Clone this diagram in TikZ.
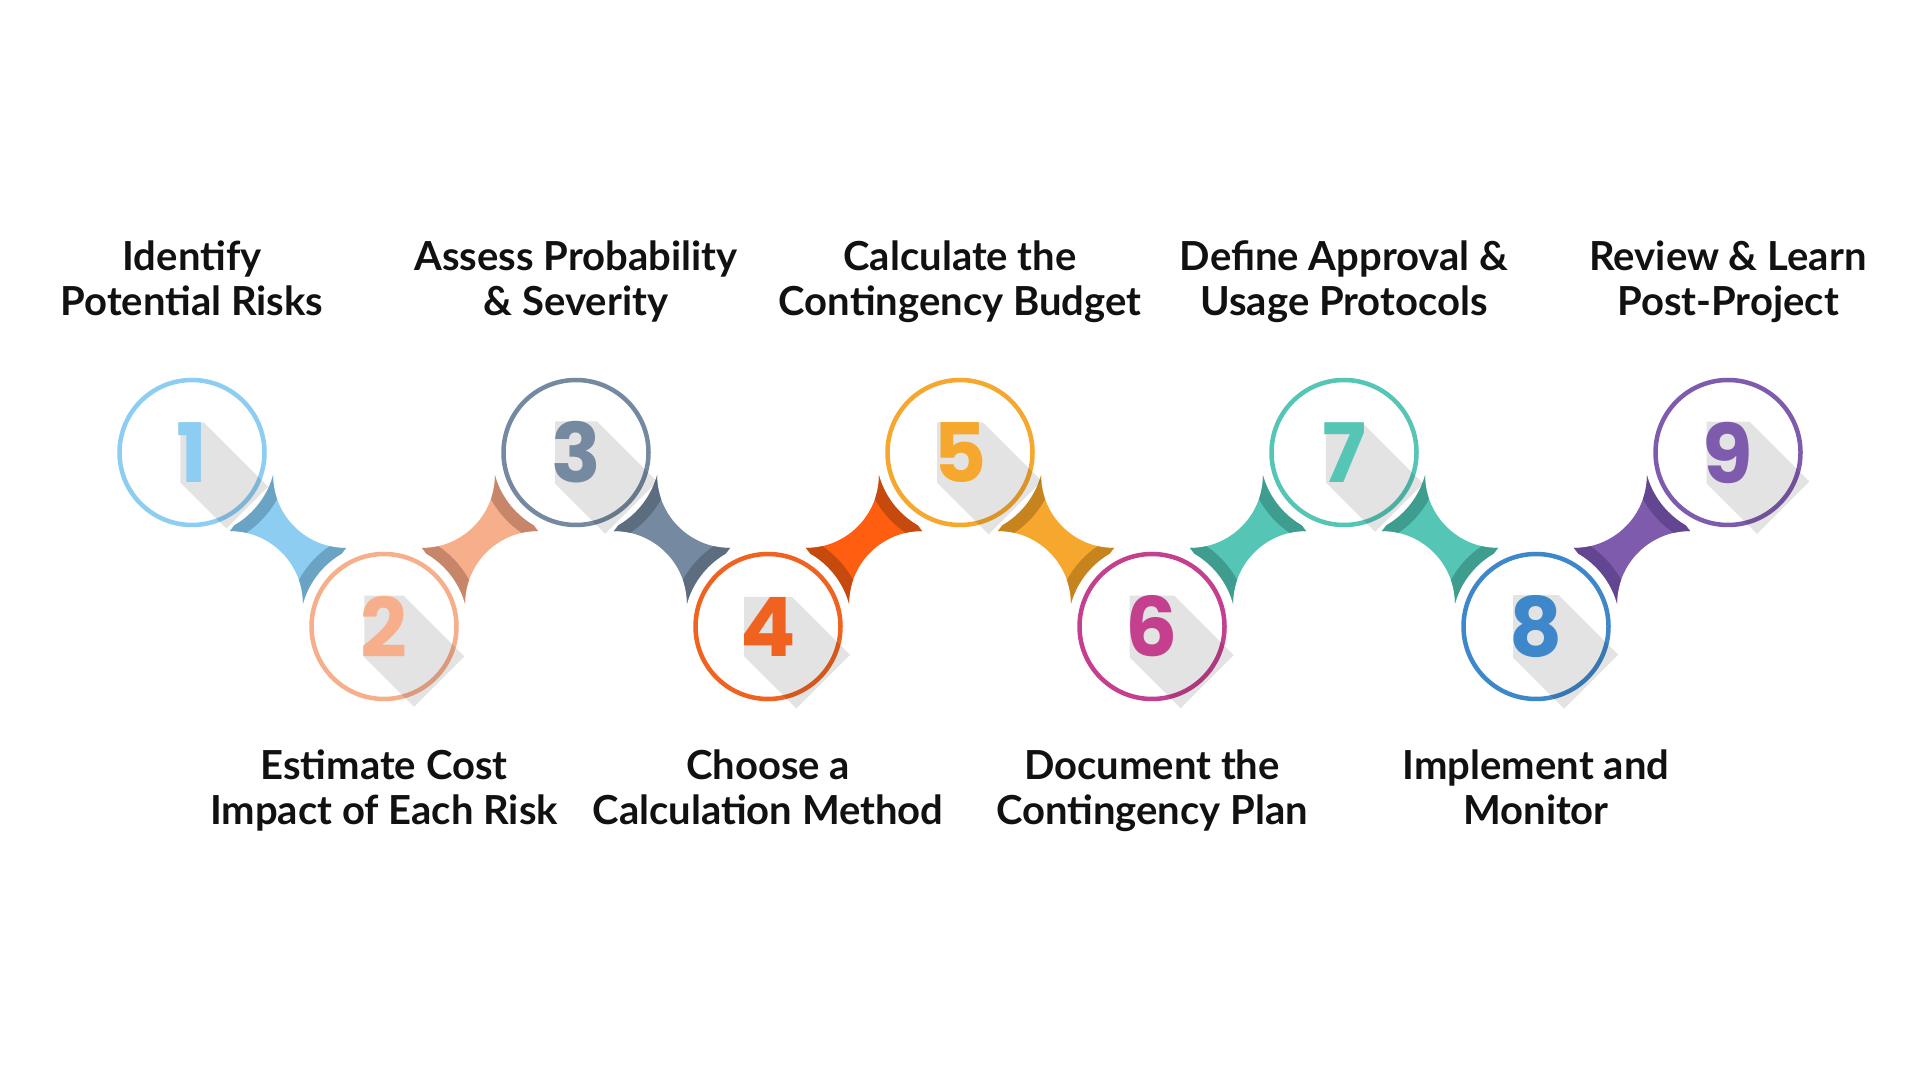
\documentclass[tikz,border=0pt]{standalone}
\usepackage{fontspec}
\setmainfont{Lato}
\newfontfamily\digitfont{Poppins}
\usetikzlibrary{calc, backgrounds}
\definecolor{cSky}{HTML}{8DCDF2}
\definecolor{cSkyDk}{HTML}{6BA3C5}
\definecolor{cPeach}{HTML}{F6AE8B}
\definecolor{cPeachDk}{HTML}{C7866A}
\definecolor{cSlate}{HTML}{7589A0}
\definecolor{cSlateDk}{HTML}{5C6D80}
\definecolor{cOrange}{HTML}{F0621F}
\definecolor{cOrangeLt}{HTML}{FF5E10}
\definecolor{cOrangeDk}{HTML}{C64A0D}
\definecolor{cAmber}{HTML}{F6A72D}
\definecolor{cAmberDk}{HTML}{C6841F}
\definecolor{cPink}{HTML}{C4408E}
\definecolor{cTeal}{HTML}{55C6B6}
\definecolor{cTealDk}{HTML}{3F9D8F}
\definecolor{cBlue}{HTML}{3E87CB}
\definecolor{cPurple}{HTML}{7E5BAD}
\definecolor{cPurpleDk}{HTML}{634691}
\definecolor{cInk}{HTML}{111111}

\pgfdeclarelayer{shade}
\pgfdeclarelayer{front}

% bridge between two rings: from, to, fill, dark band, 1 falling / -1 rising
\newcommand{\bridge}[5]{%
  \begin{scope}
    \path ($(#1)!0.5!(#2)$) coordinate (mid);
    \clip[shift={(mid)}, yscale=#5] (-58,8.5) arc[start angle=90, end angle=0, radius=73]
      -- (58,-8.5) arc[start angle=270, end angle=180, radius=73] -- cycle;
    \fill[#3] ($(mid)+(-150,-150)$) rectangle ($(mid)+(150,150)$);
    \fill[#4] (#1) circle[radius=97] (#2) circle[radius=97];
  \end{scope}}

\begin{document}
\pgfsetlayers{background,main,shade,front}
\begin{tikzpicture}[
  x=1pt, y=1pt,
  ring/.style={circle, minimum size=145, inner sep=0pt, line width=4.5pt,
               fill=white, preaction={draw=white, line width=23pt}},
  digit/.style={font=\digitfont\bfseries\fontsize{82}{82}\selectfont,
                inner sep=0pt},
  shadow/.style={fill=black, opacity=0.11},
  steptext/.style={font=\bfseries\fontsize{40}{45}\selectfont, text=cInk,
                   align=center, anchor=base},
]

\node[ring, draw=cSky]    (n1) at (192,627.5)  {};
\node[ring, draw=cPeach]  (n2) at (384,453.5)  {};
\node[ring, draw=cSlate]  (n3) at (576,627.5)  {};
\node[ring, draw=cOrange] (n4) at (768,453.5)  {};
\node[ring, draw=cAmber]  (n5) at (960,627.5)  {};
\node[ring, draw=cPink]   (n6) at (1152,453.5) {};
\node[ring, draw=cTeal]   (n7) at (1344,627.5) {};
\node[ring, draw=cBlue]   (n8) at (1536,453.5) {};
\node[ring, draw=cPurple] (n9) at (1728,627.5) {};

\begin{pgfonlayer}{front}
  \node[digit, text=cSky]    (d1) at (n1) {1};
  \node[digit, text=cPeach]  (d2) at (n2) {2};
  \node[digit, text=cSlate]  (d3) at (n3) {3};
  \node[digit, text=cOrange] (d4) at (n4) {4};
  \node[digit, text=cAmber]  (d5) at (n5) {5};
  \node[digit, text=cPink]   (d6) at (n6) {6};
  \node[digit, text=cTeal]   (d7) at (n7) {7};
  \node[digit, text=cBlue]   (d8) at (n8) {8};
  \node[digit, text=cPurple] (d9) at (n9) {9};
\end{pgfonlayer}

\begin{pgfonlayer}{background}
  \fill[white] (0,0) rectangle (1920,1080);
  \bridge{n1}{n2}{cSky}{cSkyDk}{1}
  \bridge{n2}{n3}{cPeach}{cPeachDk}{-1}
  \bridge{n3}{n4}{cSlate}{cSlateDk}{1}
  \bridge{n4}{n5}{cOrangeLt}{cOrangeDk}{-1}
  \bridge{n5}{n6}{cAmber}{cAmberDk}{1}
  \bridge{n6}{n7}{cTeal}{cTealDk}{-1}
  \bridge{n7}{n8}{cTeal}{cTealDk}{1}
  \bridge{n8}{n9}{cPurple}{cPurpleDk}{-1}
\end{pgfonlayer}
\useasboundingbox (0,0) rectangle (1920,1080);

% long shadows
\begin{pgfonlayer}{shade}
\foreach \i in {1,...,9} {
  \begin{scope}
    \clip[shift={(n\i)}, rotate=-45] (-60,-80) rectangle (78,80);
    \fill[shadow] ([xshift=4]d\i.north west) -- ([xshift=-4]d\i.north east)
      -- ([shift={(76,-80)}]d\i.north east) -- ([shift={(76,-80)}]d\i.south east)
      -- ([shift={(84,-80)}]d\i.south west) -- ([xshift=4]d\i.south west) -- cycle;
  \end{scope}}
\end{pgfonlayer}

\node[steptext] (t1) at (192,764)  {Identify\\Potential Risks};
\node[steptext] (t3) at (576,764)  {Assess Probability\\\& Severity};
\node[steptext] (t5) at (960,764)  {Calculate the\\Contingency Budget};
\node[steptext] (t7) at (1344,764) {Define Approval \&\\Usage Protocols};
\node[steptext] (t9) at (1728,764) {Review \& Learn\\Post-Project};

\node[steptext] (t2) at (384,256)  {Estimate Cost\\Impact of Each Risk};
\node[steptext] (t4) at (768,256)  {Choose a\\Calculation Method};
\node[steptext] (t6) at (1152,256) {Document the\\Contingency Plan};
\node[steptext] (t8) at (1536,256) {Implement and\\Monitor};

\end{tikzpicture}
\end{document}
